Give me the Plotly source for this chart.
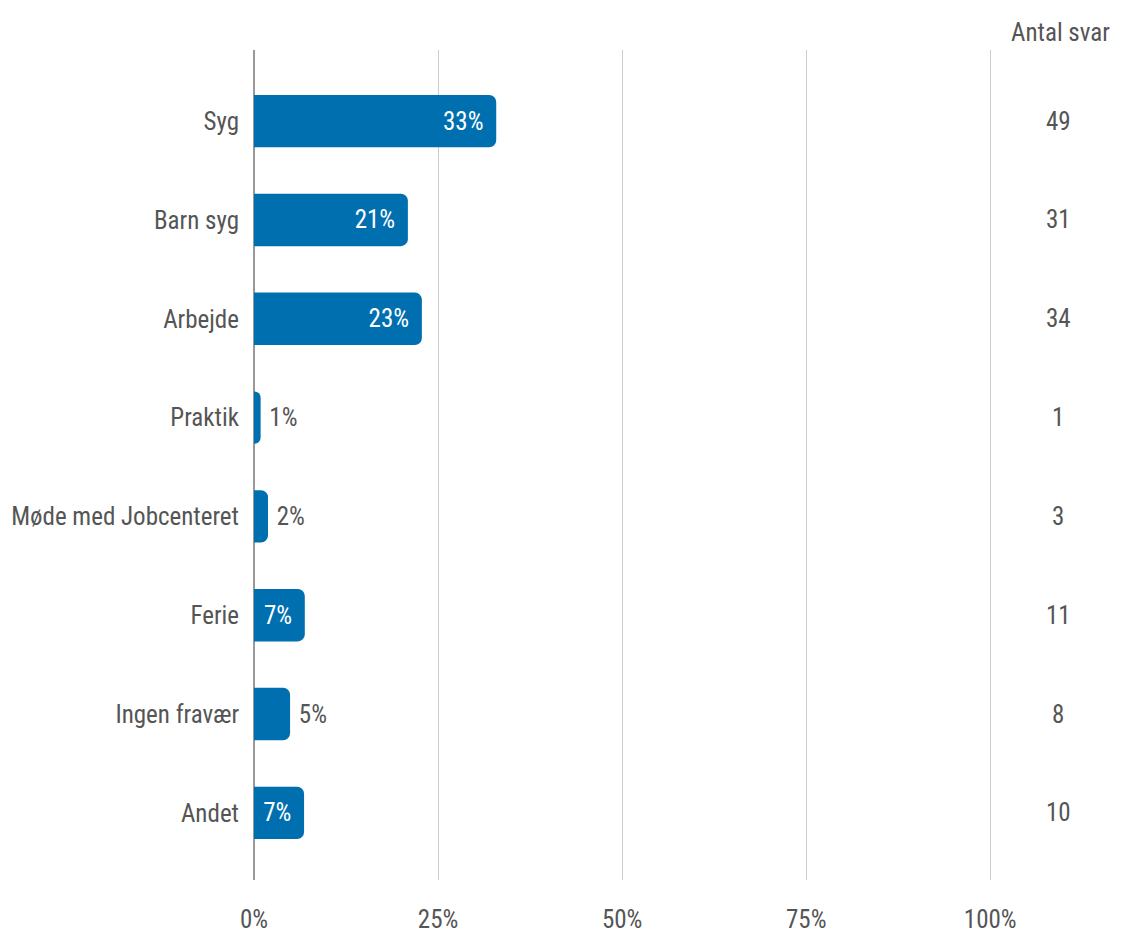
import plotly.graph_objects as go

categories = ["Syg", "Barn syg", "Arbejde", "Praktik", "Møde med Jobcenteret", "Ferie", "Ingen fravær", "Andet"]
shares = [0.329, 0.209, 0.228, 0.009, 0.019, 0.069, 0.049, 0.068]
labels = ["33%", "21%", "23%", "1%", "2%", "7%", "5%", "7%"]
counts = [49, 31, 34, 1, 3, 11, 8, 10]
label_inside = [True, True, True, False, False, True, False, True]
tick_vals = [0, 0.25, 0.5, 0.75, 1.0]
tick_text = ["0%", "25%", "50%", "75%", "100%"]
count_header = "Antal svar"

FONT = "Roboto Condensed, Liberation Sans Narrow, DejaVu Sans Condensed, sans-serif"
BAR = "#006FAF"
TXT = "#555555"
FS = 25

fig = go.Figure()
fig.add_trace(go.Bar(
    y=categories, x=shares, orientation="h",
    marker=dict(color=BAR, cornerradius=7, line=dict(width=0)),
    width=0.53,
    text=labels,
    texttemplate=["%{text}\u00a0" if b else "\u00a0%{text}" for b in label_inside],
    textposition=["inside" if b else "outside" for b in label_inside],
    insidetextanchor="end",
    textfont=dict(family=FONT, size=FS, color=["white" if b else TXT for b in label_inside]),
    cliponaxis=False,
    hoverinfo="skip",
))

for c, n in zip(categories, counts):
    fig.add_annotation(x=1.071, xref="paper", y=c, yref="y", text=str(n), showarrow=False,
                       xanchor="center", font=dict(family=FONT, size=FS, color=TXT))
fig.add_annotation(x=1.074, xref="paper", y=1, yref="paper", yanchor="middle", yshift=18,
                   text=count_header, showarrow=False, xanchor="center",
                   font=dict(family=FONT, size=FS, color=TXT))

fig.update_layout(
    width=1125, height=937,
    margin=dict(l=246, r=128, t=42, b=65),
    plot_bgcolor="white", paper_bgcolor="white",
    showlegend=False,
    font=dict(family=FONT, size=FS, color=TXT),
    uniformtext=dict(mode=False),
)
fig.update_xaxes(
    range=[0, 1.02], tickvals=tick_vals, ticktext=tick_text,
    showgrid=True, gridcolor="#cccccc", gridwidth=1,
    zeroline=True, zerolinecolor="#999999", zerolinewidth=1.5,
    showline=False, ticks="", ticklabelstandoff=22, automargin=False,
    tickfont=dict(family=FONT, size=FS, color=TXT), fixedrange=True,
)
fig.update_yaxes(
    range=[7.68, -0.72], showgrid=False, zeroline=False, showline=False,
    ticks="", ticklabelstandoff=14, automargin=False,
    tickfont=dict(family=FONT, size=FS, color=TXT), fixedrange=True,
)
fig.write_html("out.html")
